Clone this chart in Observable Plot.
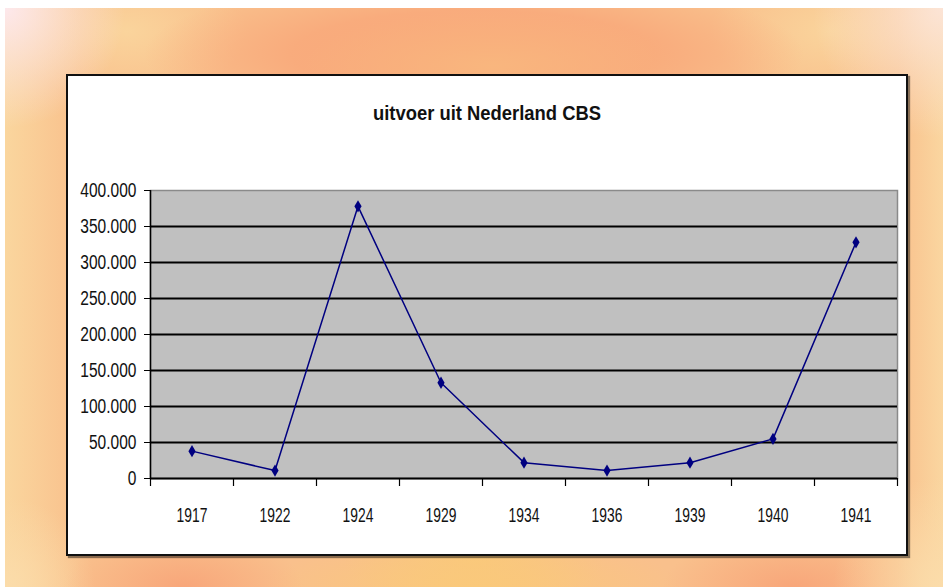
<!DOCTYPE html>
<html>
<head>
<meta charset="utf-8">
<script src="https://cdn.jsdelivr.net/npm/d3@7"></script>
<script src="https://cdn.jsdelivr.net/npm/@observablehq/plot@0.6"></script>
<style>
  html, body { margin: 0; padding: 0; background: #fff; }
  #page { position: relative; width: 943px; height: 587px; overflow: hidden; background: #fff; }
  #bg {
    position: absolute; left: 5px; top: 8px; right: 0; bottom: 0;
    background:
      radial-gradient(circle at 0% 0%, rgba(253,232,236,1) 0px, rgba(253,232,236,0) 120px),
      radial-gradient(circle at 100% 0%, rgba(252,228,214,1) 0px, rgba(252,228,214,0) 130px),
      radial-gradient(circle at 100% 100%, rgba(251,220,170,1) 0px, rgba(251,220,170,0) 110px),
      radial-gradient(circle at 0% 100%, rgba(251,220,170,1) 0px, rgba(251,220,170,0) 90px),
      radial-gradient(ellipse 120px 55px at 19% 100%, rgba(248,166,122,1) 0%, rgba(248,166,122,0) 100%),
      radial-gradient(ellipse 130px 55px at 84% 100%, rgba(248,166,122,1) 0%, rgba(248,166,122,0) 100%),
      radial-gradient(ellipse 210px 50px at 50% 100%, rgba(250,201,122,1) 0%, rgba(250,201,122,0) 100%),
      radial-gradient(ellipse 130px 60px at 50% 95%, rgba(250,201,122,0.9) 0%, rgba(250,201,122,0) 100%),
      linear-gradient(to right, rgba(250,214,158,1) 0px, rgba(250,214,158,0) 75px),
      linear-gradient(to left, rgba(250,214,160,1) 0px, rgba(250,214,160,0) 45px),
      radial-gradient(ellipse 190px 55px at 52% 10%, rgba(249,182,126,1) 0%, rgba(249,182,126,0) 100%),
      radial-gradient(ellipse 330px 80px at 50% 8%, rgba(249,168,122,1) 0%, rgba(249,168,122,0.85) 55%, rgba(249,168,122,0) 100%),
      radial-gradient(ellipse 120px 70px at 13% 4%, rgba(250,212,156,1) 0%, rgba(250,212,156,0) 100%),
      radial-gradient(ellipse 120px 70px at 88% 4%, rgba(250,212,156,1) 0%, rgba(250,212,156,0) 100%),
      #f9c08c;
  }
  #box {
    position: absolute; left: 66px; top: 74px; width: 842px; height: 482px;
    box-sizing: border-box; border: 2px solid #111; background: #fff;
    box-shadow: 2px 2px 1px rgba(0,0,0,0.45);
  }
  #title {
    position: absolute; left: 66px; top: 103px; width: 842px; text-align: center;
    font-family: "Liberation Sans", Arial, sans-serif; font-weight: bold; font-size: 20px;
    line-height: 20px; color: #111; transform: scaleX(0.92); transform-origin: 50% 50%;
  }
  #chart { position: absolute; left: 0; top: 0; }
</style>
</head>
<body>
<div id="page">
  <div id="bg"></div>
  <div id="box"></div>
  <div id="title">uitvoer uit Nederland CBS</div>
  <div id="chart"></div>
</div>
<script>
// ---- data ----
const years = ["1917", "1922", "1924", "1929", "1934", "1936", "1939", "1940", "1941"];
const exports = [38000, 11000, 378000, 133000, 22000, 11000, 22000, 55000, 328000];
const yTicks = [0, 50000, 100000, 150000, 200000, 250000, 300000, 350000, 400000];

const rows = years.map((year, i) => ({year, value: exports[i]}));

// ---- layout constants ----
const W = 943, H = 587;
const mL = 150, mR = 46, mT = 190, mB = 109;
const bw = (W - mL - mR) / years.length;

const nl = d3.formatLocale({decimal: ",", thousands: ".", grouping: [3], currency: ["€", ""]});
const fmt = nl.format(",");

const narrowDiamond = {
  draw(ctx) {
    const w = 3.6, h = 6.2;
    ctx.moveTo(0, -h); ctx.lineTo(w, 0); ctx.lineTo(0, h); ctx.lineTo(-w, 0); ctx.closePath();
  }
};

const chart = Plot.plot({
  width: W, height: H,
  marginLeft: mL, marginRight: mR, marginTop: mT, marginBottom: mB,
  style: {background: "transparent", fontFamily: "'Liberation Sans', Arial, sans-serif", fontSize: "21px", color: "#111"},
  x: {type: "band", domain: years, padding: 0, label: null},
  y: {domain: [0, 400000], label: null},
  marks: [
    Plot.frame({fill: "#c0c0c0", stroke: "#8a8a8a", strokeWidth: 1.5}),
    Plot.ruleY(yTicks.filter(d => d > 0 && d < 400000), {stroke: "#000", strokeWidth: 2}),
    Plot.ruleY([0], {stroke: "#000", strokeWidth: 2}),
    Plot.ruleX([years[0]], {dx: -bw / 2, stroke: "#000", strokeWidth: 1.5}),
    Plot.axisY({ticks: yTicks, tickSize: 6, tickPadding: 8, tickFormat: fmt, label: null, stroke: "#000"}),
    Plot.ruleX(years, {dx: -bw / 2, y1: 0, y2: 0, insetBottom: -8, stroke: "#000", strokeWidth: 1.2}),
    Plot.ruleX([years[years.length - 1]], {dx: bw / 2, y1: 0, y2: 0, insetBottom: -8, stroke: "#000", strokeWidth: 1.2}),
    Plot.axisX({tickSize: 0, tickPadding: 29, label: null}),
    Plot.line(rows, {x: "year", y: "value", stroke: "#000080", strokeWidth: 1.5}),
    Plot.dot(rows, {x: "year", y: "value", symbol: narrowDiamond, fill: "#000080", stroke: "none"})
  ]
});

document.getElementById("chart").appendChild(chart);

// condense tick label glyphs horizontally (the reference uses a squeezed Arial);
// each label is anchored at its own translated origin, so a local scale keeps its anchor
function squeeze(sel, sx) {
  chart.querySelectorAll(sel).forEach(t => {
    const tr = t.getAttribute("transform") || "";
    t.setAttribute("transform", `${tr} scale(${sx},1)`);
  });
}
squeeze('[aria-label="y-axis tick label"] text', 0.74);
squeeze('[aria-label="x-axis tick label"] text', 0.66);
</script>
</body>
</html>
